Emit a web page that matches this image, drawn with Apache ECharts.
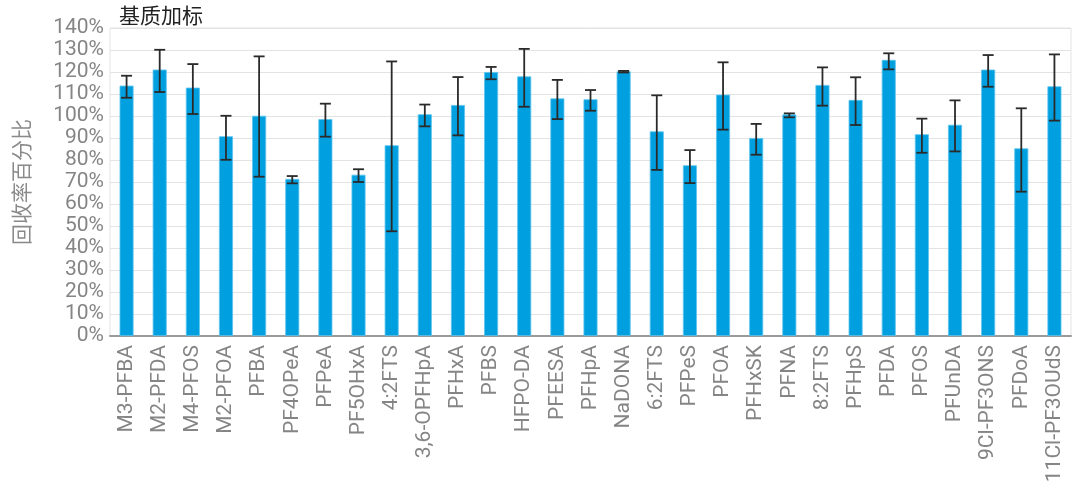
<!DOCTYPE html>
<html>
<head>
<meta charset="utf-8">
<script src="https://cdn.jsdelivr.net/npm/echarts@6/dist/echarts.min.js"></script>
<style>html,body{margin:0;padding:0;background:#fff}#c{width:1080px;height:497px}</style>
</head>
<body>
<div id="c"></div>
<script>
var categories = ['M3-PFBA','M2-PFDA','M4-PFOS','M2-PFOA','PFBA','PF4OPeA','PFPeA','PF5OHxA','4:2FTS','3,6-OPFHpA',
  'PFHxA','PFBS','HFPO-DA','PFEESA','PFHpA','NaDONA','6:2FTS','PFPeS','PFOA','PFHxSK',
  'PFNA','8:2FTS','PFHpS','PFDA','PFOS','PFUnDA','9Cl-PF3ONS','PFDoA','11Cl-PF3OUdS'];
var recovery = [113.8,121.1,112.9,90.8,100.1,71.4,98.6,73.3,86.7,100.8,
  105.0,120.0,118.0,108.0,107.6,120.3,93.0,77.6,109.7,90.0,
  100.7,114.1,107.3,125.5,91.7,96.0,121.1,85.3,113.5];
var errHigh = [118.3,130.1,123.6,100.1,127.1,72.7,105.6,75.8,124.8,105.2,
  117.7,122.3,130.5,116.4,111.8,120.5,109.4,84.5,124.4,96.4,
  101.2,122.1,117.6,128.5,98.8,107.1,127.7,103.5,128.0];
var errLow = [108.3,110.9,100.9,80.1,72.4,69.4,90.6,70.0,47.6,95.3,
  91.2,116.7,104.2,98.6,102.4,119.8,75.5,69.5,93.8,82.4,
  99.4,104.7,95.9,121.2,83.3,83.9,113.3,65.6,97.9];
var yTicks = [0,10,20,30,40,50,60,70,80,90,100,110,120,130,140];

var chart = echarts.init(document.getElementById('c'));
var font = 'Roboto, "Noto Sans CJK SC", sans-serif';
chart.setOption({
  animation: false,
  title: {
    text: '基质加标', left: 114, top: 0,
    textStyle: {fontFamily: '"Noto Sans CJK SC", sans-serif', fontSize: 21, fontWeight: 'normal', color: '#222'}
  },
  grid: {left: 110, right: 9, top: 28, bottom: 161, show: true, borderColor: '#e3e3e3', borderWidth: 1},
  xAxis: {
    type: 'category', data: categories,
    axisLine: {lineStyle: {color: '#9a9a9a', width: 2}},
    axisTick: {show: false},
    axisLabel: {rotate: 90, interval: 0, color: '#858585', fontSize: 21, fontFamily: font, margin: 9}
  },
  yAxis: {
    type: 'value', min: yTicks[0], max: yTicks[yTicks.length - 1], interval: 10,
    name: '回收率百分比', nameLocation: 'middle', nameRotate: 90, nameGap: 78,
    nameTextStyle: {fontFamily: '"Noto Sans CJK SC", sans-serif', fontSize: 21, color: '#8a8a8a'},
    axisLine: {show: false}, axisTick: {show: false},
    axisLabel: {formatter: '{value}%', color: '#858585', fontSize: 21, fontFamily: font, margin: 6},
    splitLine: {lineStyle: {color: '#e3e3e3', width: 1}}
  },
  series: [
    {
      type: 'bar', data: recovery, barWidth: 14,
      itemStyle: {color: '#00A0E0', borderColor: '#5cc4ee', borderWidth: 0.8}
    },
    {
      type: 'custom', z: 10,
      data: categories.map(function (c, i) { return [i, errHigh[i], errLow[i]]; }),
      encode: {x: 0, y: [1, 2]},
      renderItem: function (params, api) {
        var x = api.value(0);
        var pH = api.coord([x, api.value(1)]);
        var pL = api.coord([x, api.value(2)]);
        var hw = 5.5;
        var st = {stroke: '#2a2a2a', lineWidth: 1.8};
        return {type: 'group', children: [
          {type: 'line', shape: {x1: pH[0], y1: pH[1], x2: pL[0], y2: pL[1]}, style: st},
          {type: 'line', shape: {x1: pH[0] - hw, y1: pH[1], x2: pH[0] + hw, y2: pH[1]}, style: st},
          {type: 'line', shape: {x1: pL[0] - hw, y1: pL[1], x2: pL[0] + hw, y2: pL[1]}, style: st}
        ]};
      }
    }
  ]
});
</script>
</body>
</html>
